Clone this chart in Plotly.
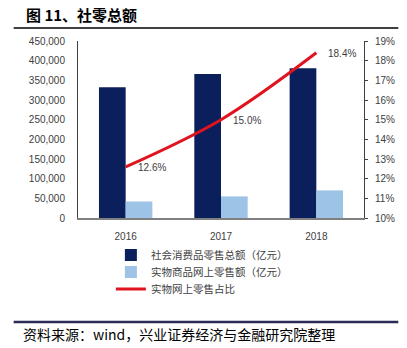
import plotly.graph_objects as go

years = ["2016", "2017", "2018"]
retail_total = [332316, 366262, 380987]
online_physical = [41944, 54806, 70198]
online_share = [12.6, 15.0, 18.4]
share_labels = ["12.6%", "15.0%", "18.4%"]

left_ticks = [0, 50000, 100000, 150000, 200000, 250000, 300000, 350000, 400000, 450000]
right_ticks = list(range(10, 20))

tick_font = dict(family="Liberation Sans, Arial", size=10, color="#404040")
cjk = "Noto Sans CJK SC"

fig = go.Figure()
fig.add_trace(go.Bar(x=years, y=retail_total, name="社会消费品零售总额（亿元）",
                     marker=dict(color="#0B1F5C", line=dict(width=0)), legend="legend"))
fig.add_trace(go.Bar(x=years, y=online_physical, name="实物商品网上零售额（亿元）",
                     marker=dict(color="#9DC3E6", line=dict(width=0)), legend="legend2"))
fig.add_trace(go.Scatter(x=years, y=online_share, name="实物网上零售占比", yaxis="y2",
                         mode="lines", legend="legend3",
                         line=dict(color="#E0141E", width=3, shape="spline")))
for i, (v, lab) in enumerate(zip(online_share, share_labels)):
    fig.add_annotation(x=i, y=v, xref="x", yref="y2", text=lab, showarrow=False,
                       xanchor="left", yanchor="middle", xshift=10, yshift=-1,
                       font=dict(family="Liberation Sans, Arial", size=10, color="#404040"))

leg_common = dict(x=0.115, xanchor="left", yanchor="middle",
                  font=dict(family=cjk, size=10.5, color="#404040"),
                  bgcolor="rgba(0,0,0,0)", itemwidth=30)

fig.update_layout(
    width=407, height=348,
    margin=dict(l=78, r=35, t=41, b=130),
    paper_bgcolor="white", plot_bgcolor="white",
    barmode="group", bargap=0.44, bargroupgap=0,
    showlegend=True,
    legend=dict(y=-0.209, **leg_common),
    legend2=dict(y=-0.305, **leg_common),
    legend3=dict(y=-0.401, **leg_common),
    xaxis=dict(type="category", showgrid=False, showline=True, linecolor="#808080",
               linewidth=1.5, tickfont=tick_font, ticks="", ticklabelstandoff=8),
    yaxis=dict(range=[0, 450000], tickvals=left_ticks, tickformat=",d", showgrid=False,
               showline=True, linecolor="#404040", linewidth=1, ticks="",
               tickfont=tick_font, zeroline=False, ticklabelstandoff=10),
    yaxis2=dict(range=[10, 19], tickvals=right_ticks,
                ticktext=[f"{v}%" for v in right_ticks], overlaying="y", side="right",
                showgrid=False, showline=True, linecolor="#404040", linewidth=1,
                ticks="outside", ticklen=3, tickcolor="#404040",
                tickfont=tick_font, zeroline=False, ticklabelstandoff=5),
    font=dict(family=cjk),
)

# title and footer
fig.add_annotation(text="<b>图 11、社零总额</b>", xref="paper", yref="paper",
                   x=-0.19, y=1.152, xanchor="left", yanchor="middle", showarrow=False,
                   font=dict(family=cjk, size=15, color="#000000"))
fig.add_shape(type="line", xref="paper", yref="paper", x0=-0.225, x1=1.12,
              y0=1.073, y1=1.073, line=dict(color="#404040", width=2))
fig.add_shape(type="line", xref="paper", yref="paper", x0=-0.225, x1=1.12,
              y0=-0.588, y1=-0.588, line=dict(color="#2B2B55", width=2.5))
fig.add_annotation(text="资料来源：wind，兴业证券经济与金融研究院整理", xref="paper", yref="paper",
                   x=-0.2, y=-0.655, xanchor="left", yanchor="middle", showarrow=False,
                   font=dict(family=cjk, size=14, color="#000000"))

fig.write_html("out.html")
